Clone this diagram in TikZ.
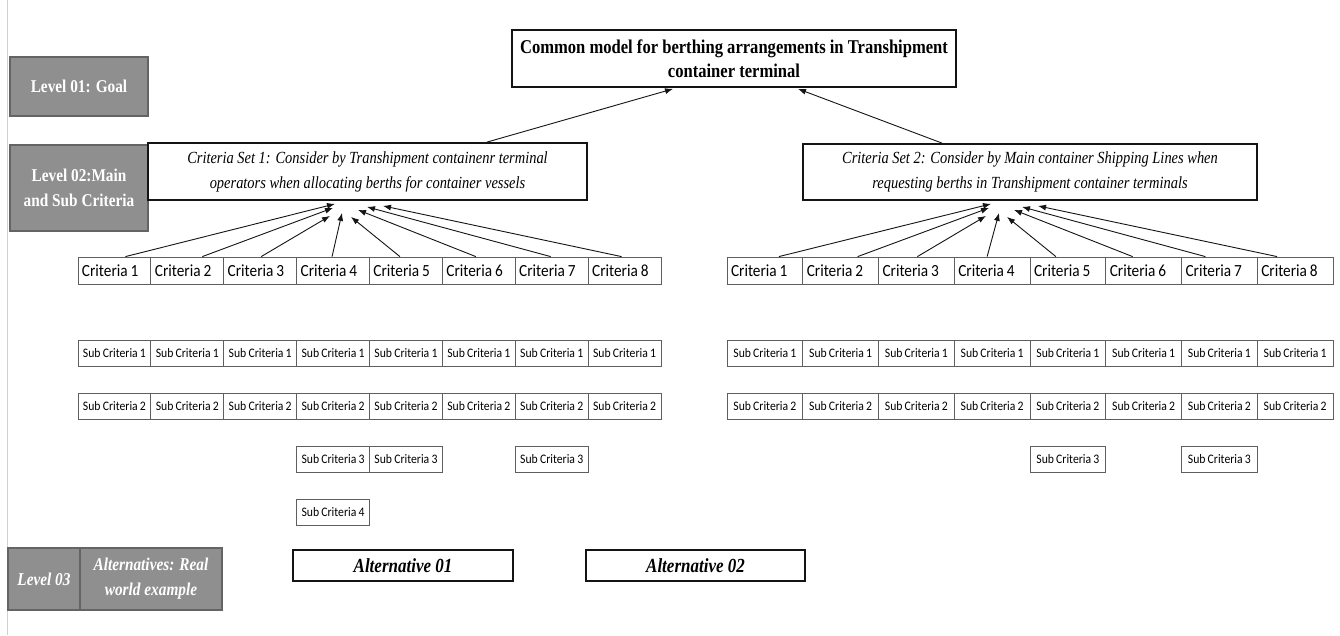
\documentclass[tikz,border=0pt]{standalone}
\usepackage{fontspec}
\setmainfont{Liberation Serif}
\newfontfamily\cserif[FakeStretch=0.85]{Liberation Serif}
\newfontfamily\csans[FakeStretch=0.9]{Carlito}
\usetikzlibrary{calc,arrows.meta,shadows}

% narrower word gap for the cell labels
\newcommand\tightgap{\spaceskip=0.17em\relax}

\definecolor{levelgray}{RGB}{143,143,143}
\definecolor{levelrim}{RGB}{100,100,100}
\definecolor{cellrim}{RGB}{95,95,95}
\definecolor{ink}{RGB}{20,20,20}

\tikzset{
  levelbox/.style={draw=levelrim, line width=1.6pt, fill=levelgray, text=white,
    align=center, inner sep=0pt, font=\cserif\bfseries\fontsize{18}{25}\selectfont},
  mainbox/.style={draw=ink, line width=1.8pt, fill=white, align=center, inner sep=0pt,
    drop shadow={shadow xshift=1.2pt, shadow yshift=-1.4pt, fill=gray!75, opacity=1}},
  critL/.style={draw=cellrim, line width=0.8pt, minimum height=27pt, inner xsep=4pt,
    text width=64.9pt, align=left, font=\csans\fontsize{17}{18}\selectfont},
  critR/.style={critL, text width=67.75pt},
  subL/.style={draw=cellrim, line width=0.8pt, minimum height=26pt, minimum width=72.875pt,
    inner sep=0pt, font=\csans\fontsize{13}{14}\selectfont},
  subR/.style={subL, minimum width=75.75pt},
  arr/.style={draw=ink, line width=0.9pt, -{Latex[length=8pt,width=6pt]}},
}

\begin{document}
\begin{tikzpicture}[x=1pt,y=-1pt]
\useasboundingbox (0,0) rectangle (1340,635);
\fill[white] (0,0) rectangle (1340,635);

% thin rule along the left edge
\draw[gray!35, line width=0.8pt] (7,0) -- (7,635);

% level labels
\node[levelbox, minimum width=138pt, minimum height=59pt] (lv1) at (79,86.5) {Level 01: Goal};
\node[levelbox, minimum width=138pt, minimum height=86pt] (lv2) at (79,188) {Level 02:Main\\and Sub Criteria};
\node[levelbox, minimum width=72pt, minimum height=62pt, font=\cserif\bfseries\itshape\fontsize{18}{25}\selectfont] (lv3a) at (44,579) {Level 03};
\node[levelbox, minimum width=142pt, minimum height=62pt, font=\cserif\bfseries\itshape\fontsize{18}{25}\selectfont] (lv3b) at (151,579) {Alternatives: Real\\world example};

% goal
\node[mainbox, minimum width=444pt, minimum height=57pt, font=\cserif\bfseries\fontsize{19.5}{24}\selectfont] (goal) at (734,58.5)
  {Common model for berthing arrangements in Transhipment\\container terminal};

% criteria sets
\node[mainbox, minimum width=439pt, minimum height=57pt, font=\cserif\itshape\fontsize{17}{25}\selectfont] (set1) at (367.5,171.5)
  {Criteria Set 1: Consider by Transhipment containenr terminal\\operators when allocating berths for container vessels};
\node[mainbox, minimum width=454pt, minimum height=56pt, font=\cserif\itshape\fontsize{17}{25}\selectfont] (set2) at (1030,172)
  {Criteria Set 2: Consider by Main container Shipping Lines when\\requesting berths in Transhipment container terminals};

% criteria rows
\foreach \i in {1,...,8} {
  \node[critL] (la\i) at ({78+(\i-0.5)*72.875},270.5) {\tightgap Criteria \i};
  \node[critR] (ra\i) at ({727+(\i-0.5)*75.75},270.5) {\tightgap Criteria \i};
  \node[subL] (lb\i) at ({78+(\i-0.5)*72.875},353) {\tightgap Sub Criteria 1};
  \node[subR] (rb\i) at ({727+(\i-0.5)*75.75},353) {\tightgap Sub Criteria 1};
  \node[subL] (lc\i) at ({78+(\i-0.5)*72.875},406) {\tightgap Sub Criteria 2};
  \node[subR] (rc\i) at ({727+(\i-0.5)*75.75},406) {\tightgap Sub Criteria 2};
}

% further sub criteria
\node[subL] (ld4) at ({78+3.5*72.875},459) {\tightgap Sub Criteria 3};
\node[subL] (ld5) at ({78+4.5*72.875},459) {\tightgap Sub Criteria 3};
\node[subL] (ld7) at ({78+6.5*72.875},459) {\tightgap Sub Criteria 3};
\node[subL] (le4) at ({78+3.5*72.875},512) {\tightgap Sub Criteria 4};
\node[subR] (rd5) at ({727+4.5*75.75},459) {\tightgap Sub Criteria 3};
\node[subR] (rd7) at ({727+6.5*75.75},459) {\tightgap Sub Criteria 3};

% alternatives
\node[mainbox, minimum width=220pt, minimum height=31pt, font=\cserif\bfseries\itshape\fontsize{20}{22}\selectfont] (alt1) at (403,565.5) {Alternative 01};
\node[mainbox, minimum width=219pt, minimum height=31pt, font=\cserif\bfseries\itshape\fontsize{20}{22}\selectfont] (alt2) at (695.5,565.5) {Alternative 02};

% arrows into the goal
\coordinate (gl) at ($(goal.south)+(-61,1)$);
\coordinate (gr) at ($(goal.south)+(64,1)$);
\draw[arr] ([xshift=119.5pt]set1.north) -- (gl);
\draw[arr] ([xshift=-88pt]set2.north) -- (gr);

% arrows from criteria into set 1
\foreach \i/\s/\dx/\dy in {1/11/-32.5/3, 2/15/-34.5/7, 3/1/-37.5/15, 4/-1/-25.5/12,
                           5/-6/-16.5/16, 6/-3/-9.5/9, 7/-1/-0.5/6, 8/-3/15.5/5} {
  \coordinate (lt\i) at ($(set1.south)+(\dx,\dy)$);
  \draw[arr] ([xshift=\s pt]la\i.north) -- (lt\i);
}
% arrows from criteria into set 2
\foreach \i/\s/\dx/\dy in {1/14/-39/3, 2/17/-41/7, 3/1/-44/15, 4/-5/-31/12,
                           5/-12/-23/16, 6/-11/-16/9, 7/-14/-8/6, 8/-18/8/5} {
  \coordinate (rt\i) at ($(set2.south)+(\dx,\dy)$);
  \draw[arr] ([xshift=\s pt]ra\i.north) -- (rt\i);
}
\end{tikzpicture}
\end{document}
